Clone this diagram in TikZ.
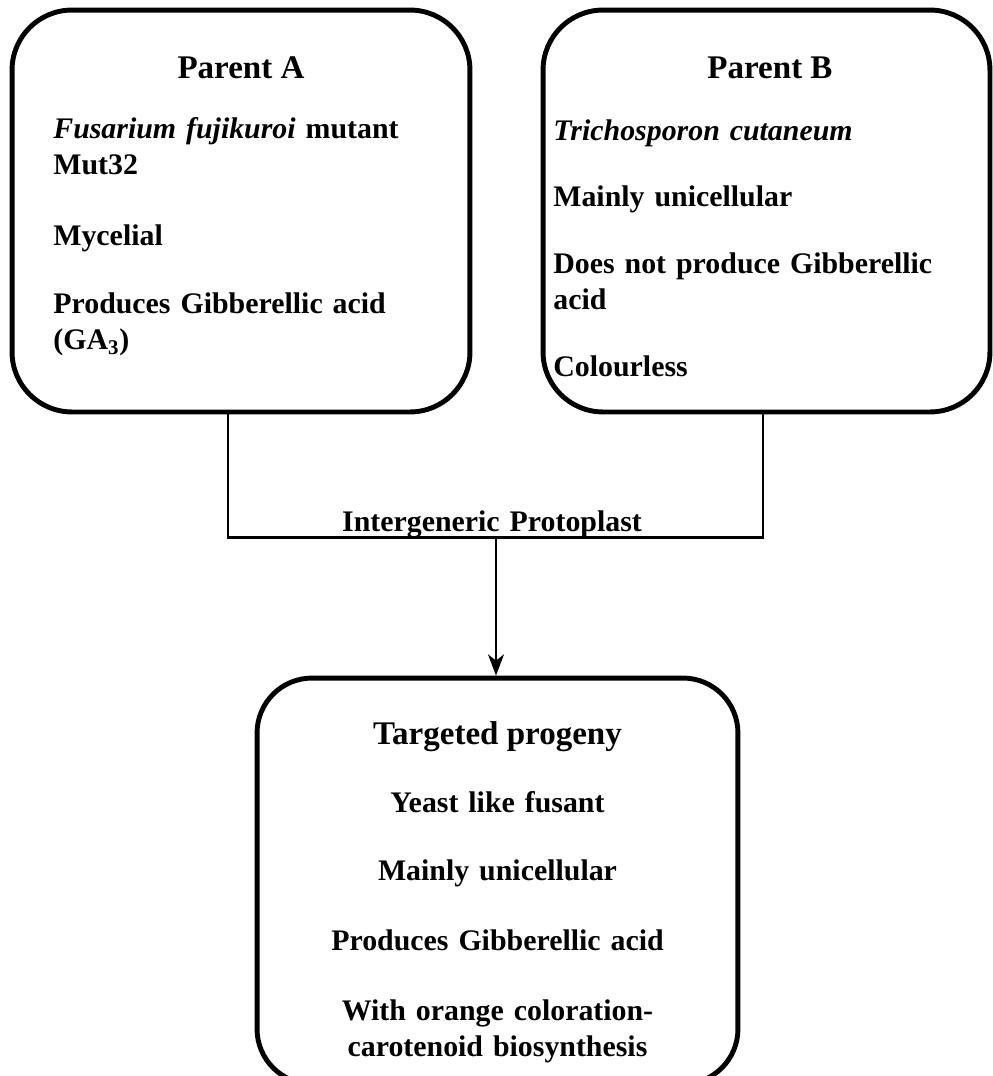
\documentclass[tikz,border=0pt]{standalone}
\usepackage{fontspec}
\setmainfont{Liberation Serif}
\usepackage{tikz}
\usetikzlibrary{arrows.meta,calc}

\tikzset{
	roundbox/.style={draw, line width=2.8pt, rounded corners=1.2cm, inner sep=0pt},
	boxtitle/.style={font=\fontsize{18.8}{22}\selectfont\bfseries, inner sep=0pt, anchor=base},
	boxitem/.style={font=\fontsize{17}{21}\selectfont\bfseries, inner sep=0pt, anchor=base west, text width=9cm, align=left},
	centreitem/.style={font=\fontsize{17}{21}\selectfont\bfseries, inner sep=0pt, anchor=base, text width=9cm, align=center},
}

\begin{document}
\begin{tikzpicture}[x=0.02cm,y=-0.02cm]
	\useasboundingbox (0,0) rectangle (992,1076);
	% the two parents
	\node[roundbox, minimum width=9.16cm, minimum height=8.04cm] (pa) at (241,211) {};
	\node[roundbox, minimum width=8.94cm, minimum height=8.04cm] (pb) at (766.5,211) {};
	\node[boxtitle] (pa title) at (241,78) {Parent A};
	\node[boxitem] (pa name) at (53,138) {\textit{Fusarium fujikuroi} mutant\\Mut32};
	\node[boxitem] (pa form) at (53,245) {Mycelial};
	\node[boxitem] (pa ga) at (53,313) {Produces Gibberellic acid\\(GA\textsubscript{3})};
	\node[boxtitle] (pb title) at (770,78) {Parent B};
	\node[boxitem] (pb name) at (553,140) {\textit{Trichosporon cutaneum}};
	\node[boxitem] (pb form) at (553,206) {Mainly unicellular};
	\node[boxitem] (pb ga) at (553,273) {Does not produce Gibberellic\\acid};
	\node[boxitem] (pb col) at (553,376) {Colourless};
	% fusion
	\coordinate (fuse) at (496,537);
	\draw[line width=1.7pt] ([xshift=-0.26cm]pa.south) |- (fuse) -| ([xshift=-0.07cm]pb.south);
	\node[centreitem] (fusion) at (492,531) {Intergeneric Protoplast};
	% progeny
	\node[roundbox, rounded corners=1.1cm, minimum width=9.62cm, minimum height=8.12cm] (prog) at (497.5,881) {};
	\draw[line width=1.7pt, -{Stealth[length=12pt,width=9pt,inset=3.5pt]}] (fuse) -- (fuse |- prog.north);
	\node[boxtitle] (prog title) at (497.5,744) {Targeted progeny};
	\node[centreitem] (prog form) at (497.5,812) {Yeast like fusant};
	\node[centreitem] (prog cell) at (497.5,880) {Mainly unicellular};
	\node[centreitem] (prog ga) at (497.5,950) {Produces Gibberellic acid};
	\node[centreitem] (prog col) at (497.5,1020) {With orange coloration-\\carotenoid biosynthesis};
\end{tikzpicture}
\end{document}
